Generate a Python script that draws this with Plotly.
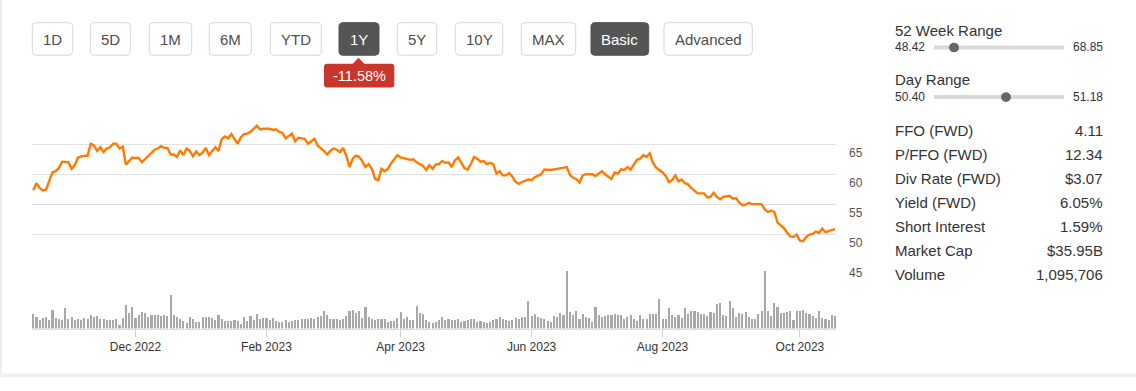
import plotly.graph_objects as go

# ---------------- data ----------------
price_day = [0, 1, 2, 3, 4, 6, 7, 8, 9, 11, 12, 13, 14, 16, 17, 18, 19, 20, 21, 22, 23, 24, 25, 26, 27, 28, 29, 30,
             31, 32, 33, 34, 35, 37, 38, 39, 40, 41, 42, 43, 44, 45, 46, 47, 48, 49, 50, 51, 52, 53, 54, 55, 56, 57,
             58, 59, 60, 61, 62, 63, 64, 65, 66, 67, 68, 69, 70, 71, 72, 74, 75, 76, 77, 78, 79, 80, 81, 82, 83, 84,
             85, 86, 87, 88, 89, 90, 91, 92, 93, 94, 95, 96, 97, 98, 99, 100, 101, 102, 103, 104, 105, 106, 107, 108,
             109, 110, 111, 112, 113, 114, 115, 116, 118, 119, 120, 121, 122, 123, 124, 125, 126, 127, 128, 129, 130,
             131, 132, 133, 134, 135, 136, 137, 138, 139, 140, 141, 142, 143, 144, 145, 146, 147, 148, 149, 150, 151,
             152, 153, 155, 156, 157, 158, 159, 160, 161, 162, 164, 165, 167, 168, 169, 170, 171, 172, 173, 175, 176,
             177, 178, 179, 180, 181, 182, 183, 184, 185, 186, 187, 188, 189, 190, 191, 192, 193, 194, 195, 196, 197,
             198, 199, 200, 201, 202, 203, 204, 205, 206, 207, 208, 210, 211, 212, 213, 214, 215, 216, 218, 219, 220,
             221, 222, 223, 224, 225, 226, 228, 229, 230, 231, 232, 233, 234, 235, 236, 237, 238, 239, 240, 241, 242,
             243, 244, 245, 246, 247, 248, 249, 250, 251]
price = [57.4, 58.6, 57.8, 57.4, 57.5, 60.4, 60.6, 61.1, 62.2, 62.1, 61.0, 61.6, 62.9, 63.2, 63.2, 65.2, 64.9, 64.0,
         64.6, 63.8, 64.4, 64.6, 65.2, 65.2, 64.4, 64.7, 61.7, 62.3, 62.9, 62.8, 62.8, 62.1, 62.6, 63.7, 64.2, 64.4,
         64.8, 64.5, 64.5, 63.4, 63.4, 63.0, 64.1, 63.3, 64.4, 64.0, 63.1, 63.9, 63.3, 63.7, 64.5, 63.3, 64.0, 64.6,
         64.0, 66.0, 66.4, 66.1, 66.8, 65.9, 65.2, 66.3, 66.8, 66.9, 67.2, 67.7, 68.2, 67.6, 67.7, 67.7, 67.5, 67.6,
         67.2, 67.0, 66.1, 66.5, 66.9, 65.6, 66.2, 66.1, 66.0, 65.2, 65.6, 66.0, 64.9, 64.5, 64.0, 63.4, 64.0, 64.4,
         64.2, 63.8, 64.5, 63.2, 61.3, 62.7, 63.2, 63.0, 62.3, 61.3, 61.8, 61.0, 59.3, 59.1, 61.0, 60.6, 61.0, 61.9,
         62.6, 63.3, 62.9, 62.8, 62.5, 62.6, 62.1, 61.8, 61.5, 60.8, 61.6, 61.0, 61.7, 61.8, 62.3, 62.0, 62.1, 61.3,
         62.4, 62.9, 61.9, 61.1, 60.9, 61.8, 63.0, 62.7, 62.2, 62.3, 61.8, 62.0, 61.8, 60.2, 60.6, 59.9, 59.9, 60.3,
         59.7, 58.8, 58.5, 58.8, 59.2, 59.1, 59.6, 59.9, 60.1, 60.9, 60.8, 60.8, 61.0, 61.1, 61.3, 60.0, 59.5, 59.3,
         58.7, 59.9, 60.1, 60.1, 59.8, 60.2, 60.6, 60.1, 59.7, 59.3, 60.4, 60.2, 60.9, 60.8, 61.3, 60.9, 61.7, 62.5,
         62.7, 63.3, 63.0, 63.6, 62.0, 61.2, 60.8, 60.4, 59.8, 58.8, 59.1, 59.9, 58.9, 59.2, 58.6, 58.4, 57.8, 57.3,
         56.9, 56.9, 56.2, 56.3, 57.0, 56.3, 55.9, 56.3, 56.5, 56.0, 56.1, 55.4, 54.9, 55.0, 55.3, 55.1, 55.1, 55.1,
         54.2, 53.8, 54.0, 53.8, 52.0, 51.5, 51.1, 50.3, 49.7, 49.6, 50.0, 49.0, 48.9, 49.6, 50.0, 50.1, 50.5, 50.3,
         51.0, 50.4, 50.6, 50.8, 50.9]

# daily volume, millions of shares (one bar per trading day)
volume = [4.5, 3.7, 2.7, 3.4, 3.7, 2.8, 6.0, 3.4, 3.0, 2.7, 6.4, 3.0, 3.6, 2.7, 3.2, 2.7, 3.4, 3.0, 4.2, 3.7,
          4.0, 3.0, 3.0, 2.8, 2.9, 2.9, 3.0, 1.2, 3.5, 7.5, 5.0, 6.7, 3.4, 4.4, 5.2, 5.0, 3.7, 4.4, 4.2, 4.4,
          4.0, 4.2, 4.0, 10.5, 4.2, 3.7, 3.0, 2.4, 1.7, 3.7, 3.0, 2.2, 2.0, 3.8, 3.6, 3.7, 3.4, 2.8, 4.4, 3.2,
          2.6, 2.4, 2.4, 2.7, 2.4, 1.5, 3.7, 2.4, 4.0, 2.8, 4.6, 3.2, 3.3, 3.4, 2.8, 3.4, 2.4, 2.0, 2.0, 2.7,
          2.2, 2.4, 2.8, 2.8, 3.0, 3.0, 3.0, 3.4, 3.0, 3.6, 4.0, 5.7, 4.2, 3.0, 3.0, 3.0, 2.8, 3.0, 4.0, 5.5,
          6.0, 5.0, 5.5, 3.5, 6.7, 3.7, 3.2, 2.8, 3.2, 3.0, 3.0, 2.0, 2.4, 2.4, 3.4, 5.4, 3.0, 3.8, 2.8, 2.8,
          7.2, 4.9, 4.8, 2.8, 2.2, 1.7, 2.0, 2.7, 3.7, 2.7, 3.0, 2.7, 2.8, 3.0, 2.0, 2.6, 2.8, 3.0, 3.0, 2.2,
          2.4, 2.2, 1.8, 2.0, 2.8, 3.2, 3.7, 3.0, 2.7, 2.4, 2.8, 3.4, 3.0, 3.8, 3.7, 8.7, 4.0, 4.5, 3.7, 3.4,
          3.0, 2.4, 2.2, 4.0, 3.6, 5.0, 4.2, 18.0, 5.2, 4.4, 5.5, 3.0, 4.7, 3.7, 3.4, 2.0, 6.7, 4.4, 3.7, 4.0,
          4.4, 4.2, 4.7, 4.2, 4.4, 3.0, 3.7, 4.2, 3.0, 2.5, 4.2, 3.0, 3.0, 4.5, 4.7, 4.7, 9.4, 3.0, 3.2, 6.4,
          4.2, 3.7, 4.2, 3.5, 6.4, 4.7, 5.7, 5.7, 5.2, 4.7, 4.7, 4.0, 5.2, 5.0, 7.9, 8.2, 4.2, 4.0, 8.7, 6.4,
          3.7, 5.0, 4.7, 5.2, 3.7, 3.0, 3.2, 4.5, 5.5, 18.0, 5.7, 4.0, 8.2, 6.7, 5.0, 5.0, 5.2, 5.7, 2.8, 5.7,
          5.7, 6.0, 5.0, 4.5, 4.0, 3.5, 5.7, 3.5, 3.0, 2.7, 4.2, 4.0]
volume_day = list(range(len(volume)))

month_tick_day = [32, 73, 115, 156, 197, 240]
month_tick_label = ["Dec 2022", "Feb 2023", "Apr 2023", "Jun 2023", "Aug 2023", "Oct 2023"]
price_ticks = [45, 50, 55, 60, 65, 70]
price_tick_text = ["45", "50", "55", "60", "65", ""]

range_buttons = ["1D", "5D", "1M", "6M", "YTD", "1Y", "5Y", "10Y", "MAX", "Basic", "Advanced"]
active_buttons = ["1Y", "Basic"]
change_badge = "-11.58%"

week52_low, week52_high = "48.42", "68.85"
day_low, day_high = "50.40", "51.18"
stat_labels = ["FFO (FWD)", "P/FFO (FWD)", "Div Rate (FWD)", "Yield (FWD)", "Short Interest", "Market Cap", "Volume"]
stat_values = ["4.11", "12.34", "$3.07", "6.05%", "1.59%", "$35.95B", "1,095,706"]

# ---------------- layout helpers ----------------
W, H = 1136, 391
FONT = "Arial, 'Liberation Sans', sans-serif"


def px(x):
    return x / W


def py(y):
    return 1 - y / H


def rrect(x0, y0, x1, y1, r):
    pts = [("M", x0 + r, y0), ("L", x1 - r, y0), ("Q", x1, y0, x1, y0 + r), ("L", x1, y1 - r),
           ("Q", x1, y1, x1 - r, y1), ("L", x0 + r, y1), ("Q", x0, y1, x0, y1 - r), ("L", x0, y0 + r),
           ("Q", x0, y0, x0 + r, y0)]
    s = ""
    for p in pts:
        cmd = p[0]
        coords = p[1:]
        parts = []
        for i in range(0, len(coords), 2):
            parts.append(f"{px(coords[i]):.6f},{py(coords[i + 1]):.6f}")
        s += cmd + " " + " ".join(parts) + " "
    return s + "Z"


fig = go.Figure()

fig.add_trace(go.Scatter(x=price_day, y=price, mode="lines", xaxis="x", yaxis="y",
                         line=dict(color="#ff7a00", width=2.4), hoverinfo="skip", showlegend=False))
fig.add_trace(go.Bar(x=volume_day, y=volume, xaxis="x2", yaxis="y2", marker=dict(color="#a8a8a8", line_width=0),
                     width=0.66, hoverinfo="skip", showlegend=False))

xr = [-0.4, 251.3]
ypx = 155.0 / 25.0  # pixels per price unit
pad = 0.15
fig.update_layout(
    width=W, height=H, margin=dict(l=0, r=0, t=0, b=0), autosize=False,
    paper_bgcolor="white", plot_bgcolor="rgba(0,0,0,0)",
    font=dict(family=FONT, color="#333"),
    bargap=0,
    xaxis=dict(domain=[px(32), px(836)], range=xr, anchor="y", showgrid=False, zeroline=False,
               showticklabels=False, showline=False, fixedrange=True),
    yaxis=dict(domain=[py(274.3 + pad * ypx), py(119.3 - pad * ypx)], range=[45 - pad, 70 + pad], side="right",
               anchor="x", tickvals=price_ticks, ticktext=price_tick_text, showgrid=True, gridcolor="#e2e2e2",
               gridwidth=1.3, zeroline=False, showline=False, ticks="", ticklabelshift=8,
               ticklabelstandoff=12, tickfont=dict(size=12, color="#555", family=FONT)),
    xaxis2=dict(domain=[px(32), px(836)], range=xr, anchor="y2", matches="x", showgrid=False, zeroline=False,
                tickvals=month_tick_day, ticktext=month_tick_label, ticks="outside", ticklen=7,
                tickcolor="#d0d0d0", tickwidth=1, showline=True, linecolor="#dddddd", linewidth=1.3,
                tickfont=dict(size=12, color="#333", family=FONT)),
    yaxis2=dict(domain=[py(340.7), py(280.7)], range=[0, 18.1], anchor="x2", visible=False),
)

shapes = []
annotations = []

# page edges
shapes.append(dict(type="rect", xref="paper", yref="paper", x0=0, x1=px(2), y0=0, y1=1,
                   fillcolor="#f4efef", line_width=0, layer="below"))
shapes.append(dict(type="rect", xref="paper", yref="paper", x0=0, x1=1, y0=0, y1=py(387.3),
                   fillcolor="#f4efef", line_width=0, layer="below"))

# range buttons
btn_x = [(32.3, 72.7), (90.3, 130.3), (149.3, 191.7), (209.3, 251.3), (270.3, 321.3), (339, 379),
         (397.3, 436.7), (455.3, 502.7), (521.3, 575.7), (591, 648.7), (664, 752.3)]
for label, (x0, x1) in zip(range_buttons, btn_x):
    active = label in active_buttons
    shapes.append(dict(type="path", xref="paper", yref="paper", path=rrect(x0, 23.5, x1, 57.3, 4),
                       fillcolor="#555555" if active else "white",
                       line=dict(color="#555555" if active else "#d6d6d6", width=1)))
    annotations.append(dict(xref="paper", yref="paper", x=px((x0 + x1) / 2), y=py(41), text=label,
                            showarrow=False, xanchor="center", yanchor="middle",
                            font=dict(size=15, color="white" if active else "#4d4d4d", family=FONT)))

# change badge
shapes.append(dict(type="path", xref="paper", yref="paper", path=rrect(324, 66, 394.3, 90.7, 3),
                   fillcolor="#c9372c", line_width=0))
shapes.append(dict(type="path", xref="paper", yref="paper",
                   path=f"M {px(352.5)},{py(66.5)} L {px(358.5)},{py(60)} L {px(364.5)},{py(66.5)} Z",
                   fillcolor="#c9372c", line_width=0))
annotations.append(dict(xref="paper", yref="paper", x=px(359.2), y=py(78.5), text=change_badge, showarrow=False,
                        xanchor="center", yanchor="middle", font=dict(size=14.5, color="white", family=FONT)))

# right panel: ranges
for title, lo, hi, ty, ly, thumb in [("52 Week Range", week52_low, week52_high, 31.7, 49.3, 954),
                                      ("Day Range", day_low, day_high, 82.7, 100.7, 1006)]:
    annotations.append(dict(xref="paper", yref="paper", x=px(893), y=py(ty), text=title, showarrow=False,
                            xanchor="left", yanchor="middle", font=dict(size=15, color="#333", family=FONT)))
    annotations.append(dict(xref="paper", yref="paper", x=px(893), y=py(ly - 0.5), text=lo, showarrow=False,
                            xanchor="left", yanchor="middle", font=dict(size=12, color="#333", family=FONT)))
    annotations.append(dict(xref="paper", yref="paper", x=px(1105), y=py(ly - 0.5), text=hi, showarrow=False,
                            xanchor="right", yanchor="middle", font=dict(size=12, color="#333", family=FONT)))
    shapes.append(dict(type="line", xref="paper", yref="paper", x0=px(934), x1=px(1064), y0=py(ly), y1=py(ly),
                       line=dict(color="#d9d9d9", width=4)))
    shapes.append(dict(type="circle", xref="paper", yref="paper", x0=px(thumb - 5), x1=px(thumb + 5),
                       y0=py(ly + 5), y1=py(ly - 5), fillcolor="#666666", line_width=0))

# right panel: stats
row_y = [135, 160, 185, 210, 235, 260, 284.5]
for lab, val, yy in zip(stat_labels, stat_values, row_y):
    annotations.append(dict(xref="paper", yref="paper", x=px(893), y=py(yy), text=lab, showarrow=False,
                            xanchor="left", yanchor="middle", font=dict(size=15, color="#333", family=FONT)))
    annotations.append(dict(xref="paper", yref="paper", x=px(1105), y=py(yy), text=val, showarrow=False,
                            xanchor="right", yanchor="middle", font=dict(size=15, color="#333", family=FONT)))

fig.update_layout(shapes=shapes, annotations=annotations)

post = """
var st = document.createElement('style');
st.innerHTML = 'html,body{margin:0;padding:0;overflow:hidden;}';
document.head.appendChild(st);
"""
fig.write_html("out.html", config={"displayModeBar": False}, post_script=post)
